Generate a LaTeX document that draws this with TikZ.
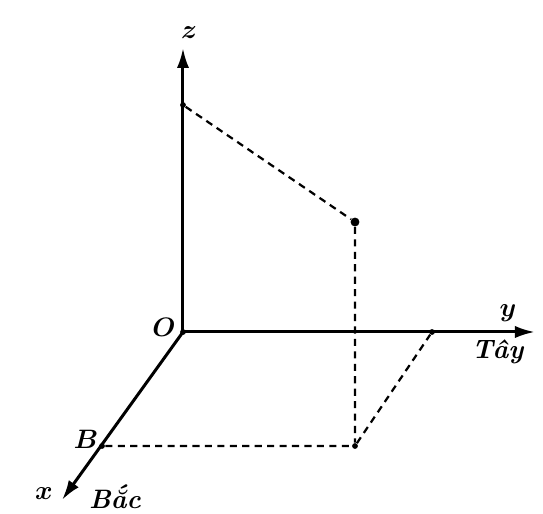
\documentclass[tikz,border=0pt]{standalone}
\usepackage{bm}
\usetikzlibrary{arrows.meta}
\begin{document}
\begin{tikzpicture}[x=0.45pt,y=-0.45pt,
  axis/.style={line width=1.35pt,-{Latex[length=9pt,width=5.5pt]}},
  dsh/.style={line width=1.0pt,dash pattern=on 3.2pt off 2.4pt},
  dotn/.style={circle,fill=black,inner sep=0pt,minimum size=2.6pt},
  bigdot/.style={circle,fill=black,inner sep=0pt,minimum size=4pt},
  lbl/.style={inner sep=0pt,font=\large}]
\useasboundingbox (0,0) rectangle (543,514);
\coordinate (O) at (183,332);
\coordinate (zt) at (183,48);
\coordinate (yt) at (535,332);
\coordinate (xt) at (62,500);
\node[dotn] (Zp) at (183,105) {};
\node[bigdot] (P) at (355,222) {};
\node[dotn] (Yp) at (432,332) {};
\node[dotn] (Bp) at (102,446) {};
\node[dotn] (Q) at (355,446) {};
\node[dotn] (Od) at (183,332) {};
\draw[axis] (O) -- (zt);
\draw[axis] (O) -- (yt);
\draw[axis] (O) -- (xt);
\draw[dsh] (Zp) -- (P) -- (Q);
\draw[dsh] (Bp) -- (Q) -- (Yp);
\node[lbl] (zl) at (189,33) {$\bm{z}$};
\node[lbl] (Ol) at (164,327) {$\bm{O}$};
\node[lbl] (yl) at (508,313) {$\bm{y}$};
\node[lbl] (tay) at (498,352) {\textbf{\textit{Tây}}};
\node[lbl] (Bl) at (86,439) {$\bm{B}$};
\node[lbl] (xl) at (44,494) {$\bm{x}$};
\node[lbl] (bac) at (115,497) {\textbf{\textit{Bắc}}};
\end{tikzpicture}
\end{document}
